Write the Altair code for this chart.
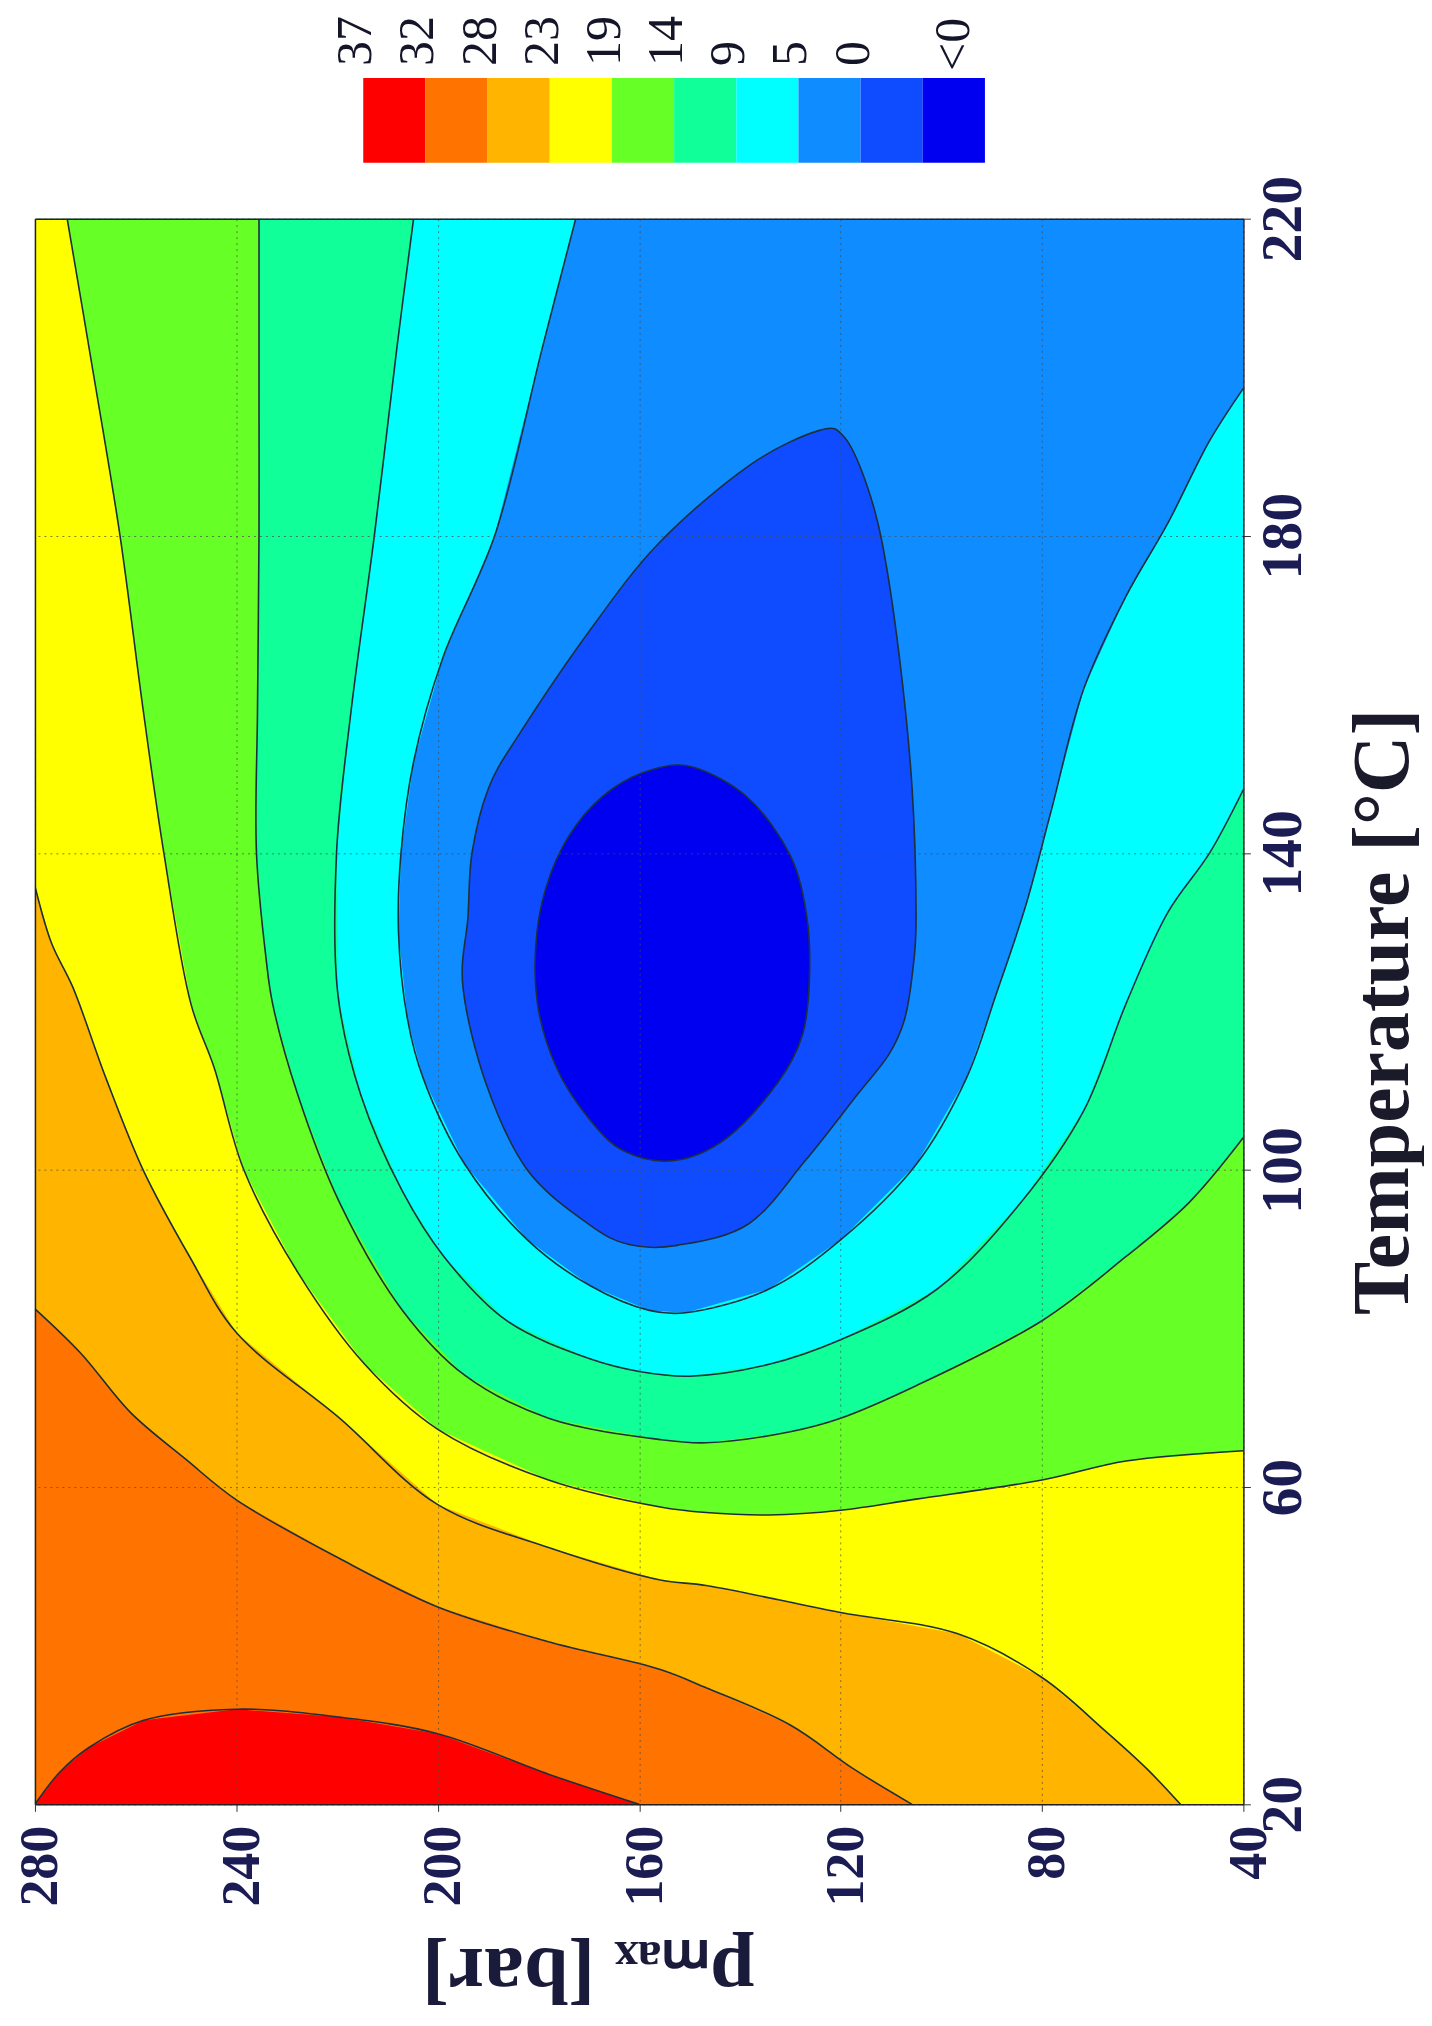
import altair as alt
import pandas as pd

# ---------------- axes ----------------
P_MIN, P_MAX = 40, 280
T_MIN, T_MAX = 20, 220
P_TICKS = [280, 240, 200, 160, 120, 80, 40]
T_TICKS = [20, 60, 100, 140, 180, 220]

# ---------------- colour bar ----------------
LEVEL_LABELS = ["37", "32", "28", "23", "19", "14", "9", "5", "0", "<0"]
LEVEL_COLORS = ["#ff0000", "#ff7300", "#ffb400", "#ffff00", "#66ff26",
                "#10ff98", "#00ffff", "#0f8cff", "#0f4cff", "#0000f0"]

# ---------------- contour lines (pmax [bar], T [°C]) ----------------
C32_P = [280, 275.0, 269.2, 258.4, 240.0, 219.5, 200.0, 178.0, 160.0]
C32_T = [20, 24.1, 27.2, 30.6, 32.0, 31.0, 28.9, 23.8, 20]

C28_P = [280, 270.9, 261.0, 250.0, 240.0, 219.5, 200.0, 178.0, 155.8, 146.7, 130.0, 117.5, 105.8]
C28_T = [82.5, 76.9, 69.4, 63.5, 58.4, 51.0, 44.9, 40.5, 37.0, 34.7, 30.0, 24.5, 20]

C23_P = [280, 276.7, 272.5, 265.9, 258.5, 249.3, 240.0, 219.5, 200.0, 178.0, 155.8, 146.7,
         120.0, 96.7, 80.0, 67.5, 59.2, 52.5]
C23_T = [135.8, 128.6, 123.1, 111.6, 100.0, 89.1, 79.5, 68.7, 57.8, 52.4, 48.3, 47.6,
         44.2, 41.5, 36.0, 29.3, 24.5, 20]

C19_P = [273.6, 268.4, 263.1, 258.5, 254.4, 249.0, 244.4, 238.5, 227.8, 214.5, 200.0, 178.0,
         155.8, 146.7, 134.2, 120.0, 105.0, 80.0, 63.3, 40]
C19_T = [220, 200.5, 180.0, 158.0, 140.0, 120.9, 112.9, 100.0, 87.1, 75.5, 67.3, 60.9,
         57.5, 56.8, 56.5, 57.1, 58.5, 60.9, 63.3, 64.6]

C14_P = [235.5, 235.5, 235.5, 235.8, 236.0, 234.1, 232.8, 227.8, 219.5, 207.0, 194.6, 178.0,
         155.8, 146.7, 130.0, 120.0, 105.0, 80.0, 63.3, 50.8, 40]
C14_T = [220, 197.3, 180.0, 158.0, 140.0, 126.7, 121.0, 109.5, 95.9, 82.3, 74.1, 68.7,
         66.0, 65.6, 67.0, 68.7, 72.8, 81.0, 89.1, 95.9, 104.1]

C9_P = [204.8, 208.1, 212.6, 217.2, 220.1, 219.8, 215.3, 207.0, 198.8, 186.3, 169.8, 160.0,
        150.0, 134.2, 120.0, 100.8, 84.2, 71.7, 63.3, 55.0, 46.7, 40]
C9_T = [220, 203.8, 180.0, 158.0, 140.0, 122.0, 109.5, 97.3, 89.1, 81.0, 76.2, 74.6,
        74.0, 75.5, 78.6, 85.0, 95.9, 107.5, 121.0, 132.5, 140.0, 148.0]

C5_P = [172.6, 179.2, 188.7, 199.0, 204.8, 207.3, 207.8, 206.0, 202.9, 194.6, 182.2, 169.7,
        158.0, 150.8, 134.2, 120.0, 105.0, 95.0, 89.2, 83.3, 78.3, 71.7, 63.3, 55.0, 46.7, 40]
C5_T = [220, 203.8, 180.0, 164.6, 151.5, 140.0, 130.0, 119.0, 111.6, 100.7, 91.2, 85.4,
        82.3, 82.0, 85.0, 91.2, 100.7, 111.6, 122.0, 133.2, 145.0, 160.7, 172.4, 181.6, 192.0, 198.6]

# closed loops
C0_P = [124.2, 119.2, 115.0, 111.7, 108.3, 105.8, 105.0, 105.7, 107.3, 110.5, 116.7, 127.0,
        138.3, 152.5, 162.0, 170.1, 182.2, 190.4, 195.0, 194.0, 193.2, 189.9, 184.0, 170.1,
        156.2, 138.3]
C0_T = [193.3, 192.4, 186.8, 179.0, 164.6, 148.2, 132.0, 125.0, 119.0, 114.5, 109.5, 101.2,
        93.2, 90.5, 90.6, 93.2, 100.0, 110.9, 123.1, 131.9, 140.0, 148.2, 154.8, 167.8,
        179.0, 188.8]

CN_P = [149.2, 138.3, 130.0, 126.7, 126.2, 127.6, 132.5, 142.5, 153.0, 163.0, 170.0, 176.4,
        180.2, 180.3, 177.5, 172.5, 165.5, 157.5]
CN_T = [150.8, 146.9, 139.7, 131.9, 124.0, 117.0, 111.0, 104.1, 101.2, 102.4, 106.5, 112.9,
        121.0, 130.0, 137.5, 143.5, 148.0, 150.5]

# ---------------- helpers ----------------
XS = alt.Scale(domain=[P_MAX, P_MIN], nice=False, zero=False)
YS = alt.Scale(domain=[T_MIN, T_MAX], nice=False, zero=False)

SERIF = "Liberation Serif"
NAVY = "#1c1c55"
LINE_COLOR = "#1e2f3c"
PLOT_W, PLOT_H = 1211, 1589


def frame(p, t):
    return pd.DataFrame({"pmax": p, "temp": t, "i": list(range(len(p)))})


def enc(ch, xaxis=None, yaxis=None):
    return ch.encode(
        x=alt.X("pmax:Q", scale=XS, axis=xaxis),
        y=alt.Y("temp:Q", scale=YS, axis=yaxis),
        order=alt.Order("i:Q"),
    )


def fill_layer(p, t, color, interp="linear", xaxis=None, yaxis=None):
    ch = alt.Chart(frame(p, t)).mark_line(
        filled=True, fill=color, strokeWidth=0, interpolate=interp, clip=True
    )
    return enc(ch, xaxis, yaxis)


def stroke_layer(p, t, interp="catmull-rom", xaxis=None, yaxis=None):
    ch = alt.Chart(frame(p, t)).mark_line(
        stroke=LINE_COLOR, strokeWidth=1.6, interpolate=interp, clip=True
    )
    return enc(ch, xaxis, yaxis)


# corners of the plotting domain
TOP_RIGHT_TAIL_P = [P_MIN, P_MAX, P_MAX]
TOP_RIGHT_TAIL_T = [T_MIN, T_MIN, T_MAX]

frame_x = alt.Axis(orient="top", labels=False, ticks=False, grid=False, domain=True,
                   domainColor="#222222", domainWidth=1.5, title=None, zindex=1)
frame_y = alt.Axis(orient="left", labels=False, ticks=False, grid=False, domain=True,
                   domainColor="#222222", domainWidth=1.5, title=None, zindex=1)

main_x = alt.Axis(
    orient="bottom", values=P_TICKS, grid=True, gridDash=[2, 4], gridColor="#4a4a4a",
    gridOpacity=0.7, gridWidth=1, domain=True, domainColor="#222222", domainWidth=1.5,
    ticks=True, tickSize=7, tickColor="#333333", labelAngle=270, labelAlign="right",
    labelBaseline="middle", labelFont=SERIF, labelFontWeight="bold", labelFontSize=54,
    labelColor=NAVY, labelPadding=14, labelOffset=6, labelOverlap=False, labelFlush=False,
    title="pₘₐₓ [bar]", titleAngle=180, titleBaseline="bottom", titleAlign="center",
    titleFont=SERIF, titleFontWeight="bold", titleFontSize=80, titleColor="#1a1a3a",
    titlePadding=25, titleX=554, zindex=1,
)
main_y = alt.Axis(
    orient="right", values=T_TICKS, grid=True, gridDash=[2, 4], gridColor="#4a4a4a",
    gridOpacity=0.7, gridWidth=1, domain=True, domainColor="#222222", domainWidth=1.5,
    ticks=True, tickSize=7, tickColor="#333333", labelAngle=270, labelAlign="center",
    labelBaseline="top", labelFont=SERIF, labelFontWeight="bold", labelFontSize=58,
    labelColor=NAVY, labelPadding=4, labelOverlap=False, labelFlush=False,
    title="Temperature [°C]", titleAngle=270, titleBaseline="top", titleAlign="center",
    titleFont=SERIF, titleFontWeight="bold", titleFontSize=80, titleColor="#1a1a2a",
    titlePadding=32, zindex=1,
)

layers = [
    fill_layer([P_MAX, P_MIN, P_MIN, P_MAX], [T_MAX, T_MAX, T_MIN, T_MIN], LEVEL_COLORS[7],
               xaxis=frame_x, yaxis=frame_y),
    fill_layer(C5_P + TOP_RIGHT_TAIL_P, C5_T + TOP_RIGHT_TAIL_T, LEVEL_COLORS[6]),
    fill_layer(C9_P + TOP_RIGHT_TAIL_P, C9_T + TOP_RIGHT_TAIL_T, LEVEL_COLORS[5]),
    fill_layer(C14_P + TOP_RIGHT_TAIL_P, C14_T + TOP_RIGHT_TAIL_T, LEVEL_COLORS[4]),
    fill_layer(C19_P + TOP_RIGHT_TAIL_P, C19_T + TOP_RIGHT_TAIL_T, LEVEL_COLORS[3]),
    fill_layer(C23_P + [P_MAX], C23_T + [T_MIN], LEVEL_COLORS[2]),
    fill_layer(C28_P + [P_MAX], C28_T + [T_MIN], LEVEL_COLORS[1]),
    fill_layer(C32_P, C32_T, LEVEL_COLORS[0]),
    fill_layer(C0_P, C0_T, LEVEL_COLORS[8], interp="cardinal-closed"),
    fill_layer(CN_P, CN_T, LEVEL_COLORS[9], interp="cardinal-closed"),
    stroke_layer(C5_P, C5_T),
    stroke_layer(C9_P, C9_T),
    stroke_layer(C14_P, C14_T),
    stroke_layer(C19_P, C19_T),
    stroke_layer(C23_P, C23_T),
    stroke_layer(C28_P, C28_T),
    stroke_layer(C32_P, C32_T),
    stroke_layer(C0_P, C0_T, interp="cardinal-closed"),
    stroke_layer(CN_P, CN_T, interp="cardinal-closed", xaxis=main_x, yaxis=main_y),
]

main = alt.layer(*layers).resolve_axis(x="independent", y="independent").properties(
    width=PLOT_W, height=PLOT_H
)

# ---------------- colour bar ----------------
cb_df = pd.DataFrame({"level": LEVEL_LABELS, "color": LEVEL_COLORS})
CBX = alt.Scale(domain=LEVEL_LABELS, range=[329, 952], paddingInner=0, paddingOuter=0)

cb_rect = alt.Chart(cb_df).mark_rect().encode(
    x=alt.X("level:N", scale=CBX, axis=None, sort=LEVEL_LABELS),
    y=alt.value(67),
    y2=alt.value(152),
    color=alt.Color("level:N", scale=alt.Scale(domain=LEVEL_LABELS, range=LEVEL_COLORS),
                    legend=None),
)
cb_text_edge = alt.Chart(cb_df.iloc[:9]).mark_text(
    angle=270, align="left", baseline="middle", font=SERIF, fontSize=50, color="#15152a",
    xOffset=-7,
).encode(
    x=alt.X("level:N", scale=CBX, axis=None, sort=LEVEL_LABELS, bandPosition=0),
    y=alt.value(55),
    text="level:N",
)
cb_text_mid = alt.Chart(cb_df.iloc[9:]).mark_text(
    angle=270, align="left", baseline="middle", font=SERIF, fontSize=50, color="#15152a"
).encode(
    x=alt.X("level:N", scale=CBX, axis=None, sort=LEVEL_LABELS, bandPosition=0.5),
    y=alt.value(60),
    text="level:N",
)
colorbar = alt.layer(cb_rect, cb_text_edge, cb_text_mid).properties(width=PLOT_W, height=152)

chart = alt.vconcat(
    colorbar, main, spacing=10,
    padding={"left": 5, "top": 0, "right": 0, "bottom": 4},
    background="white",
).configure_view(stroke="transparent")

chart.save("out.html", embed_options={"renderer": "svg", "actions": False})
